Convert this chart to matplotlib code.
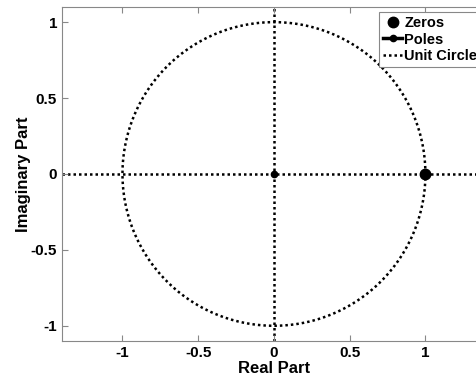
import numpy as np
import matplotlib.pyplot as plt

plt.rcParams['font.family'] = ['Liberation Sans', 'DejaVu Sans']
plt.rcParams['font.weight'] = 'bold'

# zeros and poles of the filter
zeros_re = [1.0]
zeros_im = [0.0]
poles_re = [0.0]
poles_im = [0.0]

theta = np.linspace(0, 2 * np.pi, 400)

fig = plt.figure(figsize=(4.76, 3.87), dpi=100)
ax = fig.add_axes([0.130, 0.119, 0.891, 0.863])

dots = (0, (1, 1.2))
ax.axhline(0, color='black', linestyle=dots, linewidth=1.8, zorder=1)
ax.axvline(0, color='black', linestyle=dots, linewidth=1.8, zorder=1)
ax.plot(zeros_re, zeros_im, 'o', color='black', markersize=7.5, linestyle='none',
        label='Zeros', zorder=3)
ax.plot(poles_re, poles_im, color='black', marker='.', markersize=9, linewidth=2.5,
        label='Poles', zorder=3)
ax.plot(np.cos(theta), np.sin(theta), color='black', linestyle=dots, linewidth=1.8,
        label='Unit Circle', zorder=2)

ax.set_xlim(-1.4, 1.4)
ax.set_ylim(-1.1, 1.1)
ax.set_xticks([-1, -0.5, 0, 0.5, 1])
ax.set_yticks([-1, -0.5, 0, 0.5, 1])
ax.set_xticklabels(['-1', '-0.5', '0', '0.5', '1'])
ax.set_yticklabels(['-1', '-0.5', '0', '0.5', '1'])
ax.tick_params(direction='in', top=True, right=True, length=4, color='#888888',
               labelsize=11)
for s in ax.spines.values():
    s.set_color('#888888')
ax.set_xlabel('Real Part', fontsize=12, fontweight='bold', labelpad=1)
ax.set_ylabel('Imaginary Part', fontsize=12, fontweight='bold', labelpad=0)

leg = ax.legend(loc='upper right', bbox_to_anchor=(0.988, 0.985), fontsize=10.5,
                handlelength=1.3, handletextpad=0.15, borderpad=0.25,
                labelspacing=0.2, borderaxespad=0, fancybox=False, framealpha=1)
leg.get_frame().set_edgecolor('#888888')
leg.get_frame().set_linewidth(0.8)

fig.savefig('out.png', dpi=100)
